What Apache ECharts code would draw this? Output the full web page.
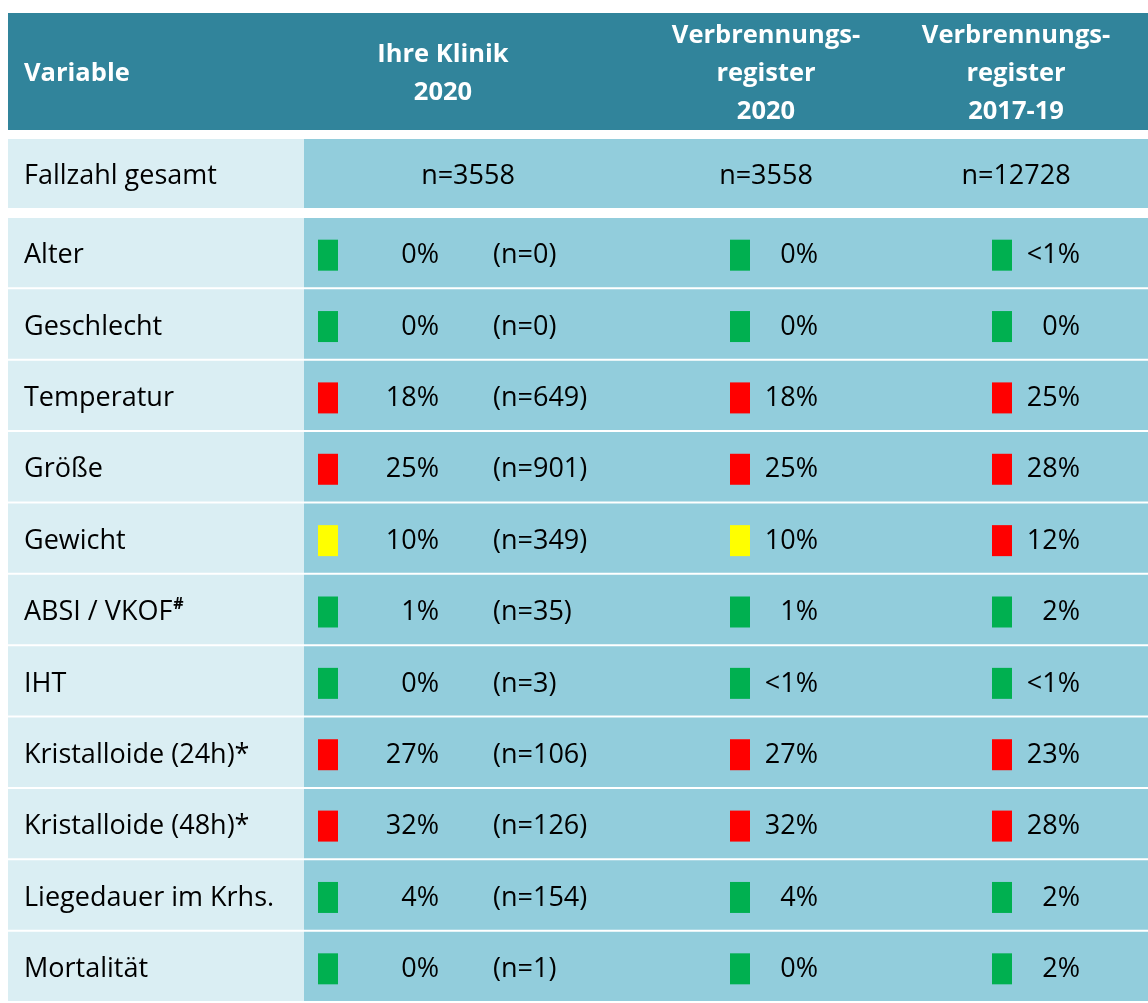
<!DOCTYPE html>
<html>
<head>
<meta charset="utf-8">
<script src="https://cdn.jsdelivr.net/npm/echarts@6/dist/echarts.min.js"></script>
<style>
  html, body { margin: 0; padding: 0; background: #fff; }
  #main { width: 1148px; height: 1003px; }
</style>
</head>
<body>
<div id="main"></div>
<script>
// Spaltenköpfe
const columns = ['Variable', 'Ihre Klinik\n2020', 'Verbrennungs-\nregister\n2020', 'Verbrennungs-\nregister\n2017-19'];

// Fallzahl
const totalLabel = 'Fallzahl gesamt';
const totals = ['n=3558', 'n=3558', 'n=12728'];

// Variablen (fehlende Werte)
const variables = ['Alter', 'Geschlecht', 'Temperatur', 'Größe', 'Gewicht', 'ABSI / VKOF#', 'IHT',
  'Kristalloide (24h)*', 'Kristalloide (48h)*', 'Liegedauer im Krhs.', 'Mortalität'];
const klinikPct = ['0%', '0%', '18%', '25%', '10%', '1%', '0%', '27%', '32%', '4%', '0%'];
const klinikN = [0, 0, 649, 901, 349, 35, 3, 106, 126, 154, 1];
const klinikStatus = ['g', 'g', 'r', 'r', 'y', 'g', 'g', 'r', 'r', 'g', 'g'];
const reg2020Pct = ['0%', '0%', '18%', '25%', '10%', '1%', '<1%', '27%', '32%', '4%', '0%'];
const reg2020Status = ['g', 'g', 'r', 'r', 'y', 'g', 'g', 'r', 'r', 'g', 'g'];
const reg1719Pct = ['<1%', '0%', '25%', '28%', '12%', '2%', '<1%', '23%', '28%', '2%', '2%'];
const reg1719Status = ['g', 'g', 'r', 'r', 'r', 'g', 'g', 'r', 'r', 'g', 'g'];

const Colors = {
  head: '#31849B',
  light: '#DAEEF3',
  mid: '#92CDDC',
  g: '#00B050',
  r: '#FF0000',
  y: '#FFFF00',
};
const FONT = '"Open Sans", Lato, sans-serif';
const FS = 27;
const LABEL_W = 296;
const TY = 3; // Text etwas tiefer als Zeilenmitte

var myChart = echarts.init(document.getElementById('main'));

function txt(x, y, text, align, extra) {
  return {
    type: 'text',
    style: Object.assign({
      x: x, y: y, text: text,
      align: align, verticalAlign: 'middle',
      fill: '#000', font: FS + 'px ' + FONT,
    }, extra || {}),
  };
}

function square(x, yc, status) {
  return {
    type: 'rect',
    shape: { x: x, y: yc - 15, width: 20, height: 31 },
    style: { fill: Colors[status] },
  };
}

function rowCells(cs, top, h) {
  return [
    { type: 'rect', shape: { x: cs.x, y: top, width: LABEL_W, height: h }, style: { fill: Colors.light } },
    { type: 'rect', shape: { x: cs.x + LABEL_W, y: top, width: cs.width - LABEL_W, height: h }, style: { fill: Colors.mid } },
  ];
}

function renderHeader(params, api) {
  const cs = params.coordSys;
  const i = api.value(0);
  const yc = api.coord([0, 0])[1];
  const centers = [null, 435, 758, 1008];
  const children = [];
  if (i === 0) {
    children.push({ type: 'rect', shape: { x: cs.x, y: cs.y, width: cs.width, height: cs.height }, style: { fill: Colors.head } });
  }
  const x = i === 0 ? cs.x + 16 : cs.x + centers[i];
  children.push(txt(x, yc + 2, columns[i], i === 0 ? 'left' : 'center', {
    fill: '#fff', font: 'bold 25.5px ' + FONT, lineHeight: 38,
  }));
  return { type: 'group', children: children };
}

function renderTotal(params, api) {
  const cs = params.coordSys;
  const yc = api.coord([0, 0])[1];
  const band = api.size([0, 1])[1];
  const children = rowCells(cs, yc - band / 2, band);
  children.push(txt(cs.x + 16, yc + TY, totalLabel, 'left'));
  const centers = [460, 758, 1008];
  totals.forEach((t, k) => children.push(txt(cs.x + centers[k], yc + TY, t, 'center')));
  return { type: 'group', children: children };
}

function renderBody(params, api) {
  const cs = params.coordSys;
  const i = api.value(1);
  const yc = api.coord([0, i])[1];
  const band = api.size([0, 1])[1];
  const children = rowCells(cs, yc - band / 2, band - 2);
  const name = variables[i];
  const ty = yc - 1 + TY;
  if (name.endsWith('#')) {
    children.push({
      type: 'text',
      style: {
        x: cs.x + 16, y: ty, align: 'left', verticalAlign: 'middle',
        text: '{a|' + name.slice(0, -1) + '}{s|#}',
        rich: {
          a: { fill: '#000', font: FS + 'px ' + FONT, lineHeight: 32 },
          s: { fill: '#000', font: 'bold 16px ' + FONT, lineHeight: 32, verticalAlign: 'top', padding: [0, 0, 16, 1] },
        },
      },
    });
  } else {
    children.push(txt(cs.x + 16, ty, name, 'left'));
  }
  // Ihre Klinik
  children.push(square(cs.x + 310, yc + 1, klinikStatus[i]));
  children.push(txt(cs.x + 431, ty, klinikPct[i], 'right'));
  children.push(txt(cs.x + 485, ty, '(n=' + klinikN[i] + ')', 'left'));
  // Register 2020
  children.push(square(cs.x + 722, yc + 1, reg2020Status[i]));
  children.push(txt(cs.x + 810, ty, reg2020Pct[i], 'right'));
  // Register 2017-19
  children.push(square(cs.x + 984, yc + 1, reg1719Status[i]));
  children.push(txt(cs.x + 1072, ty, reg1719Pct[i], 'right'));
  return { type: 'group', children: children };
}

const hiddenAxis = { show: false };

myChart.setOption({
  backgroundColor: '#fff',
  animation: false,
  grid: [
    { left: 8, right: 0, top: 13, height: 117 },
    { left: 8, right: 0, top: 139, height: 69 },
    { left: 8, right: 0, top: 218, height: 72.4 * variables.length },
  ],
  xAxis: [
    Object.assign({ type: 'category', gridIndex: 0, data: columns }, hiddenAxis),
    Object.assign({ type: 'category', gridIndex: 1, data: ['total'] }, hiddenAxis),
    Object.assign({ type: 'category', gridIndex: 2, data: ['row'] }, hiddenAxis),
  ],
  yAxis: [
    Object.assign({ type: 'category', gridIndex: 0, data: ['head'] }, hiddenAxis),
    Object.assign({ type: 'category', gridIndex: 1, data: [totalLabel] }, hiddenAxis),
    Object.assign({ type: 'category', gridIndex: 2, data: variables, inverse: true }, hiddenAxis),
  ],
  series: [
    {
      type: 'custom', xAxisIndex: 0, yAxisIndex: 0, clip: false,
      data: columns.map((c, i) => [i, 0]),
      renderItem: renderHeader,
    },
    {
      type: 'custom', xAxisIndex: 1, yAxisIndex: 1, clip: false,
      data: [[0, 0]],
      renderItem: renderTotal,
    },
    {
      type: 'custom', xAxisIndex: 2, yAxisIndex: 2, clip: false,
      data: variables.map((v, i) => [0, i]),
      renderItem: renderBody,
    },
  ],
});
</script>
</body>
</html>
